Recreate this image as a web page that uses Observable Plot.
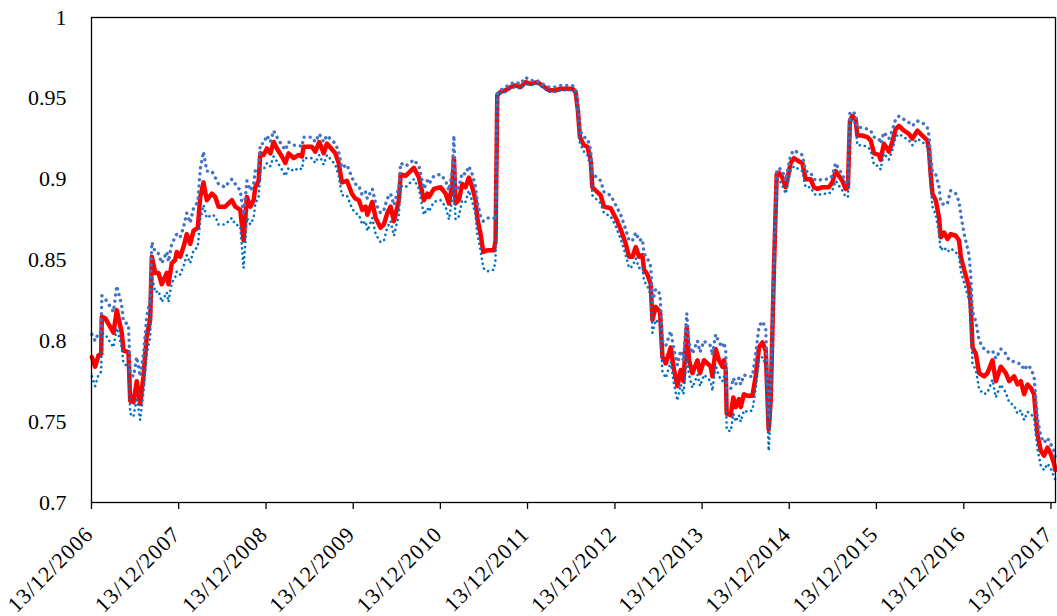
<!DOCTYPE html>
<html><head><meta charset="utf-8">
<script src="https://cdn.jsdelivr.net/npm/d3@7"></script>
<script src="https://cdn.jsdelivr.net/npm/@observablehq/plot@0.6"></script>
<style>
html,body{margin:0;padding:0;background:#fff;}
#chart svg, #chart svg text { font-family: "Liberation Serif", "Times New Roman", serif !important; }
</style>
</head><body><div id="chart"></div>
<script>
// decimal-year position of each observation
const years = [
2006.952, 2006.990, 2007.028, 2007.059, 2007.066, 2007.105, 2007.200, 2007.238, 2007.295, 2007.315,
2007.372, 2007.392, 2007.430, 2007.467, 2007.506, 2007.544, 2007.582, 2007.621, 2007.640, 2007.679,
2007.716, 2007.754, 2007.812, 2007.831, 2007.869, 2007.908, 2007.926, 2007.965, 2008.003, 2008.041,
2008.080, 2008.118, 2008.167, 2008.195, 2008.232, 2008.270, 2008.328, 2008.367, 2008.404, 2008.481,
2008.519, 2008.557, 2008.596, 2008.653, 2008.691, 2008.729, 2008.768, 2008.806, 2008.825, 2008.863,
2008.883, 2008.920, 2008.958, 2008.997, 2009.035, 2009.073, 2009.130, 2009.169, 2009.207, 2009.265,
2009.322, 2009.360, 2009.379, 2009.474, 2009.513, 2009.559, 2009.609, 2009.646, 2009.743, 2009.781,
2009.818, 2009.876, 2009.933, 2009.972, 2010.013, 2010.052, 2010.090, 2010.110, 2010.167, 2010.205,
2010.262, 2010.300, 2010.339, 2010.377, 2010.415, 2010.472, 2010.492, 2010.549, 2010.644, 2010.702,
2010.759, 2010.798, 2010.816, 2010.874, 2010.950, 2011.008, 2011.046, 2011.085, 2011.103, 2011.122,
2011.160, 2011.199, 2011.237, 2011.275, 2011.314, 2011.352, 2011.371, 2011.409, 2011.440, 2011.486,
2011.562, 2011.581, 2011.601, 2011.638, 2011.696, 2011.753, 2011.810, 2011.868, 2011.925, 2011.982,
2012.059, 2012.116, 2012.192, 2012.269, 2012.326, 2012.403, 2012.461, 2012.498, 2012.525, 2012.548,
2012.594, 2012.633, 2012.671, 2012.690, 2012.747, 2012.785, 2012.823, 2012.900, 2012.957, 2013.014,
2013.072, 2013.110, 2013.149, 2013.187, 2013.225, 2013.263, 2013.282, 2013.321, 2013.359, 2013.378,
2013.416, 2013.465, 2013.493, 2013.531, 2013.588, 2013.626, 2013.665, 2013.703, 2013.734, 2013.772,
2013.798, 2013.837, 2013.895, 2013.924, 2013.970, 2014.009, 2014.047, 2014.066, 2014.104, 2014.142,
2014.181, 2014.199, 2014.219, 2014.230, 2014.276, 2014.307, 2014.333, 2014.371, 2014.391, 2014.429,
2014.468, 2014.525, 2014.563, 2014.601, 2014.640, 2014.678, 2014.712, 2014.735, 2014.773, 2014.804,
2014.830, 2014.869, 2014.907, 2014.964, 2015.002, 2015.059, 2015.098, 2015.136, 2015.193, 2015.231,
2015.270, 2015.327, 2015.403, 2015.442, 2015.480, 2015.518, 2015.557, 2015.595, 2015.621, 2015.644,
2015.672, 2015.710, 2015.729, 2015.786, 2015.844, 2015.882, 2015.920, 2015.977, 2015.996, 2016.034,
2016.091, 2016.130, 2016.168, 2016.206, 2016.263, 2016.321, 2016.359, 2016.417, 2016.474, 2016.531,
2016.550, 2016.569, 2016.589, 2016.627, 2016.665, 2016.684, 2016.722, 2016.761, 2016.799, 2016.856,
2016.894, 2016.914, 2016.952, 2017.009, 2017.028, 2017.048, 2017.086, 2017.124, 2017.181, 2017.220,
2017.277, 2017.315, 2017.372, 2017.430, 2017.468, 2017.525, 2017.564, 2017.602, 2017.640, 2017.679,
2017.716, 2017.754, 2017.793, 2017.831, 2017.869, 2017.908, 2017.946, 2017.984, 2017.998
];

// central series (red)
const middle = [
0.790, 0.784, 0.791, 0.792, 0.815, 0.814, 0.805, 0.819, 0.805, 0.794,
0.793, 0.763, 0.762, 0.775, 0.761, 0.778, 0.803, 0.813, 0.852, 0.842,
0.842, 0.835, 0.842, 0.835, 0.848, 0.850, 0.855, 0.852, 0.858, 0.866,
0.860, 0.868, 0.870, 0.889, 0.898, 0.887, 0.891, 0.889, 0.883, 0.883,
0.885, 0.887, 0.883, 0.881, 0.862, 0.889, 0.883, 0.887, 0.895, 0.899,
0.916, 0.915, 0.919, 0.916, 0.923, 0.919, 0.914, 0.910, 0.916, 0.913,
0.915, 0.914, 0.920, 0.920, 0.917, 0.923, 0.916, 0.922, 0.916, 0.910,
0.898, 0.899, 0.891, 0.888, 0.887, 0.881, 0.883, 0.878, 0.886, 0.876,
0.870, 0.872, 0.879, 0.883, 0.874, 0.887, 0.903, 0.902, 0.907, 0.901,
0.887, 0.891, 0.889, 0.894, 0.895, 0.891, 0.885, 0.897, 0.913, 0.885,
0.887, 0.897, 0.895, 0.901, 0.895, 0.887, 0.876, 0.866, 0.855, 0.856,
0.856, 0.862, 0.952, 0.954, 0.955, 0.957, 0.958, 0.957, 0.960, 0.959,
0.960, 0.958, 0.955, 0.955, 0.956, 0.956, 0.956, 0.954, 0.942, 0.926,
0.921, 0.920, 0.912, 0.895, 0.892, 0.890, 0.883, 0.882, 0.876, 0.869,
0.860, 0.852, 0.852, 0.858, 0.852, 0.853, 0.844, 0.841, 0.835, 0.813,
0.821, 0.818, 0.790, 0.786, 0.796, 0.782, 0.772, 0.782, 0.775, 0.808,
0.788, 0.780, 0.788, 0.780, 0.788, 0.786, 0.784, 0.778, 0.795, 0.788,
0.784, 0.788, 0.782, 0.755, 0.754, 0.765, 0.759, 0.764, 0.759, 0.767,
0.766, 0.766, 0.778, 0.796, 0.799, 0.794, 0.745, 0.763, 0.846, 0.903,
0.904, 0.901, 0.895, 0.910, 0.913, 0.911, 0.910, 0.900, 0.900, 0.895,
0.894, 0.895, 0.895, 0.898, 0.905, 0.902, 0.899, 0.894, 0.895, 0.936,
0.939, 0.937, 0.927, 0.927, 0.926, 0.924, 0.916, 0.915, 0.912, 0.922,
0.917, 0.923, 0.931, 0.933, 0.930, 0.928, 0.925, 0.930, 0.927, 0.924,
0.918, 0.903, 0.891, 0.887, 0.876, 0.864, 0.867, 0.863, 0.866, 0.865,
0.862, 0.852, 0.844, 0.833, 0.821, 0.796, 0.792, 0.780, 0.778, 0.780,
0.788, 0.775, 0.784, 0.780, 0.775, 0.778, 0.773, 0.775, 0.767, 0.773,
0.771, 0.767, 0.742, 0.732, 0.729, 0.734, 0.730, 0.724, 0.720
];

// upper band (dotted, muted blue)
const upper = [
0.804, 0.800, 0.805, 0.806, 0.828, 0.826, 0.818, 0.834, 0.822, 0.812,
0.810, 0.780, 0.778, 0.790, 0.778, 0.792, 0.815, 0.826, 0.861, 0.855,
0.854, 0.848, 0.855, 0.849, 0.860, 0.864, 0.866, 0.864, 0.870, 0.879,
0.873, 0.882, 0.886, 0.906, 0.917, 0.905, 0.905, 0.901, 0.897, 0.895,
0.898, 0.900, 0.897, 0.893, 0.878, 0.899, 0.893, 0.897, 0.905, 0.908,
0.922, 0.922, 0.927, 0.923, 0.930, 0.926, 0.921, 0.918, 0.923, 0.921,
0.921, 0.920, 0.926, 0.926, 0.923, 0.928, 0.923, 0.927, 0.922, 0.917,
0.907, 0.909, 0.901, 0.897, 0.896, 0.890, 0.892, 0.888, 0.894, 0.885,
0.879, 0.881, 0.888, 0.891, 0.884, 0.895, 0.910, 0.908, 0.912, 0.908,
0.894, 0.899, 0.897, 0.902, 0.903, 0.899, 0.893, 0.905, 0.927, 0.893,
0.895, 0.904, 0.903, 0.908, 0.903, 0.895, 0.886, 0.877, 0.874, 0.876,
0.876, 0.875, 0.953, 0.955, 0.957, 0.959, 0.960, 0.959, 0.963, 0.961,
0.961, 0.959, 0.957, 0.957, 0.958, 0.958, 0.958, 0.956, 0.944, 0.930,
0.926, 0.925, 0.918, 0.903, 0.901, 0.899, 0.892, 0.890, 0.884, 0.878,
0.869, 0.862, 0.862, 0.867, 0.862, 0.863, 0.854, 0.851, 0.846, 0.824,
0.832, 0.829, 0.800, 0.797, 0.806, 0.794, 0.785, 0.794, 0.788, 0.817,
0.799, 0.792, 0.800, 0.793, 0.800, 0.798, 0.797, 0.791, 0.804, 0.799,
0.796, 0.799, 0.794, 0.770, 0.770, 0.777, 0.773, 0.777, 0.773, 0.779,
0.778, 0.778, 0.792, 0.809, 0.812, 0.808, 0.752, 0.770, 0.850, 0.905,
0.907, 0.905, 0.899, 0.915, 0.918, 0.916, 0.915, 0.905, 0.904, 0.900,
0.899, 0.900, 0.900, 0.902, 0.910, 0.906, 0.903, 0.898, 0.897, 0.941,
0.942, 0.940, 0.932, 0.932, 0.931, 0.930, 0.926, 0.925, 0.922, 0.929,
0.925, 0.930, 0.937, 0.939, 0.937, 0.935, 0.933, 0.936, 0.935, 0.932,
0.927, 0.914, 0.905, 0.903, 0.895, 0.886, 0.884, 0.885, 0.893, 0.891,
0.886, 0.878, 0.866, 0.853, 0.840, 0.818, 0.812, 0.800, 0.795, 0.793,
0.794, 0.789, 0.795, 0.792, 0.788, 0.787, 0.786, 0.786, 0.782, 0.785,
0.783, 0.778, 0.752, 0.741, 0.737, 0.740, 0.736, 0.732, 0.727
];

// lower band (dotted, bright blue)
const lower = [
0.778, 0.772, 0.779, 0.781, 0.805, 0.804, 0.796, 0.808, 0.796, 0.786,
0.784, 0.755, 0.753, 0.765, 0.751, 0.768, 0.792, 0.802, 0.840, 0.830,
0.831, 0.824, 0.830, 0.824, 0.836, 0.839, 0.843, 0.841, 0.846, 0.853,
0.848, 0.856, 0.858, 0.875, 0.884, 0.876, 0.878, 0.877, 0.872, 0.872,
0.874, 0.876, 0.872, 0.871, 0.845, 0.876, 0.872, 0.876, 0.885, 0.889,
0.905, 0.906, 0.910, 0.908, 0.914, 0.911, 0.906, 0.902, 0.907, 0.905,
0.907, 0.906, 0.913, 0.913, 0.910, 0.915, 0.909, 0.915, 0.909, 0.902,
0.890, 0.890, 0.882, 0.879, 0.878, 0.872, 0.874, 0.868, 0.876, 0.866,
0.861, 0.862, 0.870, 0.874, 0.865, 0.878, 0.896, 0.895, 0.900, 0.894,
0.878, 0.882, 0.880, 0.886, 0.887, 0.883, 0.875, 0.888, 0.900, 0.875,
0.877, 0.887, 0.886, 0.893, 0.886, 0.878, 0.866, 0.856, 0.845, 0.843,
0.844, 0.850, 0.951, 0.953, 0.954, 0.956, 0.957, 0.956, 0.959, 0.958,
0.959, 0.957, 0.954, 0.954, 0.955, 0.955, 0.955, 0.953, 0.939, 0.922,
0.917, 0.915, 0.907, 0.890, 0.887, 0.885, 0.879, 0.877, 0.871, 0.863,
0.853, 0.845, 0.846, 0.851, 0.845, 0.846, 0.837, 0.834, 0.828, 0.805,
0.813, 0.810, 0.781, 0.777, 0.787, 0.773, 0.763, 0.773, 0.767, 0.790,
0.779, 0.771, 0.779, 0.772, 0.779, 0.777, 0.775, 0.769, 0.785, 0.778,
0.775, 0.778, 0.773, 0.745, 0.744, 0.755, 0.750, 0.754, 0.750, 0.757,
0.756, 0.757, 0.770, 0.788, 0.790, 0.785, 0.732, 0.755, 0.840, 0.900,
0.900, 0.896, 0.891, 0.905, 0.908, 0.906, 0.905, 0.895, 0.895, 0.891,
0.890, 0.891, 0.891, 0.893, 0.899, 0.896, 0.893, 0.889, 0.889, 0.934,
0.937, 0.934, 0.921, 0.921, 0.920, 0.918, 0.909, 0.908, 0.906, 0.916,
0.912, 0.918, 0.926, 0.928, 0.926, 0.924, 0.921, 0.925, 0.923, 0.920,
0.912, 0.896, 0.883, 0.878, 0.866, 0.856, 0.858, 0.855, 0.857, 0.855,
0.852, 0.843, 0.836, 0.825, 0.812, 0.786, 0.782, 0.770, 0.767, 0.768,
0.776, 0.765, 0.773, 0.768, 0.762, 0.760, 0.755, 0.757, 0.751, 0.756,
0.755, 0.752, 0.733, 0.723, 0.720, 0.724, 0.721, 0.716, 0.714
];

const tickYears = [2006, 2007, 2008, 2009, 2010, 2011, 2012, 2013, 2014, 2015, 2016, 2017];
const yTicks = [0.7, 0.75, 0.8, 0.85, 0.9, 0.95, 1];

function toDate(y) {
  const yr = Math.floor(y);
  const s = Date.UTC(yr, 0, 1), e = Date.UTC(yr + 1, 0, 1);
  return new Date(s + (y - yr) * (e - s));
}
const n = Math.min(years.length, middle.length, upper.length, lower.length);
const rows = [];
for (let i = 0; i < n; i++) rows.push({date: toDate(years[i]), mid: middle[i], up: upper[i], lo: lower[i]});
const tickDates = tickYears.map(y => new Date(Date.UTC(y, 11, 13)));

const FONT = "'Liberation Serif', 'Times New Roman', serif";

const chart = Plot.plot({
  width: 1057,
  height: 616,
  marginLeft: 91,
  marginRight: 2,
  marginTop: 17,
  marginBottom: 114,
  style: {fontFamily: FONT, fontSize: "22px", color: "black", background: "white"},
  x: {type: "utc", domain: [new Date(Date.UTC(2006, 11, 13)), new Date(Date.UTC(2018, 0, 1))]},
  y: {domain: [0.7, 1]},
  marks: [
    Plot.lineY(rows, {x: "date", y: "mid", stroke: "#FF0000", strokeWidth: 4.5, strokeLinejoin: "round"}),
    Plot.lineY(rows, {x: "date", y: "up", stroke: "#4472C4", strokeWidth: 3.4, strokeDasharray: "0.1 6", strokeLinecap: "round"}),
    Plot.lineY(rows, {x: "date", y: "lo", stroke: "#0070C0", strokeWidth: 2.6, strokeDasharray: "0.1 5", strokeLinecap: "round"}),
    Plot.frame({stroke: "black", strokeWidth: 1.3}),
    Plot.axisY({ticks: yTicks, tickSize: 0, tickPadding: 25, tickFormat: d => String(d), label: null, fontSize: 22, fontFamily: FONT}),
    Plot.axisX({ticks: tickDates, tickSize: 7, tickFormat: () => "", label: null, strokeWidth: 1.3}),
    Plot.text(tickDates, {
      x: d => d, frameAnchor: "bottom",
      text: d => `13/12/${d.getUTCFullYear()}`,
      rotate: -45, textAnchor: "end", lineAnchor: "bottom",
      dx: 3, dy: 33, fontSize: 22, fontFamily: FONT
    })
  ]
});
document.getElementById("chart").appendChild(chart);
d3.select(chart).selectAll('g[aria-label="text"] text').attr("letter-spacing", "1px");
</script>
</body></html>
